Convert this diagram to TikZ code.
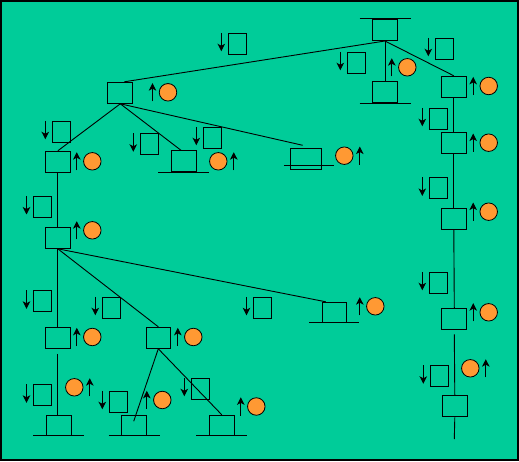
\documentclass[tikz,border=0pt]{standalone}
\usetikzlibrary{arrows.meta}
\definecolor{sea}{HTML}{00CC99}
\definecolor{coin}{HTML}{FF9933}
\tikzset{
  tbox/.style={
    draw=black, line width=1pt, inner sep=0pt,
    minimum width=25pt, minimum height=21pt
  },
  tagbox/.style={
    draw=black, line width=1pt, inner sep=0pt,
    minimum width=18pt, minimum height=21pt
  },
  ball/.style={
    circle, draw=black, fill=coin, line width=0.8pt,
    inner sep=0pt, minimum size=17.5pt
  },
  pointer/.style={-{Stealth[length=7.5pt,width=7.5pt,inset=2pt]}, line width=1pt},
  branch/.style={line width=0.9pt},
  ground/.style={line width=1pt}
}

\begin{document}
\begin{tikzpicture}[x=1pt,y=-1pt]
  \useasboundingbox (0,0) rectangle (519,462);
  \draw[fill=sea, line width=2pt] (1,1) rectangle (517.5,459.5);

  % tree positions
  \node[tbox] (root) at (385,30) {};
  \node[tbox] (mid) at (385,92.3) {};
  \node[tbox] (r1) at (453.8,86.8) {};
  \node[tbox] (r2) at (453.8,142.8) {};
  \node[tbox] (r3) at (453.8,218.8) {};
  \node[tbox] (r4) at (454.3,319.3) {};
  \node[tbox] (r5) at (454.8,406.3) {};
  \node[tbox] (l1) at (120.3,92.8) {};
  \node[tbox] (la) at (57.8,161.8) {};
  \node[tbox] (lb) at (183.5,161.3) {};
  \node[tbox, minimum width=31pt] (lc) at (305.8,159.3) {};
  \node[tbox] (ld) at (57.8,237.8) {};
  \node[tbox] (le) at (57.8,337.8) {};
  \node[tbox, minimum width=24pt] (lf) at (158.3,337.8) {};
  \node[tbox, minimum width=24pt, minimum height=20pt] (lg) at (334.3,312.3) {};
  \node[tbox, minimum height=20pt] (lh) at (58.8,425.3) {};
  \node[tbox, minimum height=20pt] (li) at (134,425.3) {};
  \node[tbox, minimum height=20pt] (lj) at (221.8,425.3) {};
  \coordinate (lcend) at (302.7,145.3);
  \coordinate (liend) at (133.7,421.3);
  \coordinate (rend) at (454.3,439);

  % branches
  \draw[branch] (root.south) -- ([xshift=4pt]l1.north);
  \draw[branch] (root.south) -- (mid.north);
  \draw[branch] (root.south) -- (r1.north);
  \draw[branch] (r1.south) -- (r2.north);
  \draw[branch] (r2.south) -- (r3.north);
  \draw[branch] (r3.south) -- (r4.north);
  \draw[branch] ([yshift=-4pt]r4.south) -- (r5.north);
  \draw[branch] (r5.south) -- (rend);
  \draw[branch] (l1.south) -- (la.north);
  \draw[branch] (l1.south) -- ([xshift=-2.5pt]lb.north);
  \draw[branch] (l1.south) -- (lcend);
  \draw[branch] (la.south) -- (ld.north);
  \draw[branch] (ld.south) -- (le.north);
  \draw[branch] (ld.south) -- (lf.north);
  \draw[branch] (ld.south) -- ([xshift=4pt]lg.north west);
  \draw[branch] ([yshift=-5pt]le.south) -- (le.south |- lh.north);
  \draw[branch] (lf.south) -- (liend);
  \draw[branch] (lf.south) -- (lj.north);

  % ground bars
  \draw[ground] ([xshift=-12.5pt]root.north west) -- ([xshift=12.5pt]root.north east);
  \draw[ground] ([xshift=-12.5pt]mid.south west) -- ([xshift=12.5pt]mid.south east);
  \draw[ground] ([xshift=-12.5pt]lb.south west) -- ([xshift=12.5pt]lb.south east);
  \draw[ground] ([xshift=-6pt,yshift=5pt]lc.south west) -- ([xshift=12.5pt,yshift=5pt]lc.south east);
  \draw[ground] ([xshift=-12.5pt]lg.south west) -- ([xshift=12.5pt]lg.south east);
  \draw[ground] ([xshift=-12.5pt]lh.south west) -- ([xshift=12.5pt]lh.south east);
  \draw[ground] ([xshift=-12.5pt]li.south west) -- ([xshift=12.5pt]li.south east);
  \draw[ground] ([xshift=-12.5pt]lj.south west) -- ([xshift=12.5pt]lj.south east);

  % tags with down arrows
  \node[tagbox] (t1) at (237.3,43.8) {};
  \node[tagbox] (t2) at (356.3,62.8) {};
  \node[tagbox] (t3) at (444.3,48.8) {};
  \node[tagbox] (t4) at (438.3,118.8) {};
  \node[tagbox] (t5) at (438.3,188.5) {};
  \node[tagbox] (t6) at (438.3,282.8) {};
  \node[tagbox] (t7) at (439.3,376.3) {};
  \node[tagbox] (t8) at (61.3,131.8) {};
  \node[tagbox] (t9) at (149.3,144.3) {};
  \node[tagbox] (t10) at (212.3,137.8) {};
  \node[tagbox] (t11) at (42.5,207) {};
  \node[tagbox] (t12) at (42.5,301.3) {};
  \node[tagbox] (t13) at (111.3,307.8) {};
  \node[tagbox] (t14) at (262.5,307.8) {};
  \node[tagbox] (t15) at (42.5,395.3) {};
  \node[tagbox] (t16) at (118.3,401.8) {};
  \node[tagbox] (t17) at (200.3,388.8) {};
  \draw[pointer] ([xshift=-6.5pt]t1.north west) -- ([xshift=-6.5pt,yshift=-7.5pt]t1.west);
  \draw[pointer] ([xshift=-6.5pt]t2.north west) -- ([xshift=-6.5pt,yshift=-7.5pt]t2.west);
  \draw[pointer] ([xshift=-6.5pt]t3.north west) -- ([xshift=-6.5pt,yshift=-7.5pt]t3.west);
  \draw[pointer] ([xshift=-6.5pt]t4.north west) -- ([xshift=-6.5pt,yshift=-7.5pt]t4.west);
  \draw[pointer] ([xshift=-6.5pt]t5.north west) -- ([xshift=-6.5pt,yshift=-7.5pt]t5.west);
  \draw[pointer] ([xshift=-6.5pt]t6.north west) -- ([xshift=-6.5pt,yshift=-7.5pt]t6.west);
  \draw[pointer] ([xshift=-6.5pt]t7.north west) -- ([xshift=-6.5pt,yshift=-7.5pt]t7.west);
  \draw[pointer] ([xshift=-6.5pt]t8.north west) -- ([xshift=-6.5pt,yshift=-7.5pt]t8.west);
  \draw[pointer] ([xshift=-6.5pt]t9.north west) -- ([xshift=-6.5pt,yshift=-7.5pt]t9.west);
  \draw[pointer] ([xshift=-6.5pt]t10.north west) -- ([xshift=-6.5pt,yshift=-7.5pt]t10.west);
  \draw[pointer] ([xshift=-6.5pt]t11.north west) -- ([xshift=-6.5pt,yshift=-7.5pt]t11.west);
  \draw[pointer] ([xshift=-6.5pt]t12.north west) -- ([xshift=-6.5pt,yshift=-7.5pt]t12.west);
  \draw[pointer] ([xshift=-6.5pt]t13.north west) -- ([xshift=-6.5pt,yshift=-7.5pt]t13.west);
  \draw[pointer] ([xshift=-6.5pt]t14.north west) -- ([xshift=-6.5pt,yshift=-7.5pt]t14.west);
  \draw[pointer] ([xshift=-6.5pt]t15.north west) -- ([xshift=-6.5pt,yshift=-7.5pt]t15.west);
  \draw[pointer] ([xshift=-6.5pt]t16.north west) -- ([xshift=-6.5pt,yshift=-7.5pt]t16.west);
  \draw[pointer] ([xshift=-6.5pt]t17.north west) -- ([xshift=-6.5pt,yshift=-7.5pt]t17.west);

  % balls with up arrows
  \node[ball] (c1) at (407.3,67.3) {};
  \node[ball] (c2) at (488.7,86) {};
  \node[ball] (c3) at (488.7,142.7) {};
  \node[ball] (c4) at (488.7,211.7) {};
  \node[ball] (c5) at (488.7,312.3) {};
  \node[ball] (c6) at (470.3,368.3) {};
  \node[ball] (c7) at (168,92.3) {};
  \node[ball] (c8) at (92.3,161.3) {};
  \node[ball] (c9) at (218.3,161.3) {};
  \node[ball] (c10) at (344.3,155.7) {};
  \node[ball] (c11) at (92.3,230.3) {};
  \node[ball] (c12) at (92.3,337) {};
  \node[ball] (c13) at (193.3,337) {};
  \node[ball] (c14) at (375.3,306.3) {};
  \node[ball] (c15) at (74.3,387.3) {};
  \node[ball] (c16) at (162.3,400) {};
  \node[ball] (c17) at (256.3,406.5) {};
  \draw[pointer] ([xshift=-15.5pt]c1.south) -- ([xshift=-15.5pt]c1.north);
  \draw[pointer] ([xshift=-15.5pt]c2.south) -- ([xshift=-15.5pt]c2.north);
  \draw[pointer] ([xshift=-15.5pt]c3.south) -- ([xshift=-15.5pt]c3.north);
  \draw[pointer] ([xshift=-15.5pt]c4.south) -- ([xshift=-15.5pt]c4.north);
  \draw[pointer] ([xshift=-15.5pt]c5.south) -- ([xshift=-15.5pt]c5.north);
  \draw[pointer] ([xshift=15.5pt]c6.south) -- ([xshift=15.5pt]c6.north);
  \draw[pointer] ([xshift=-15.5pt]c7.south) -- ([xshift=-15.5pt]c7.north);
  \draw[pointer] ([xshift=-15.5pt]c8.south) -- ([xshift=-15.5pt]c8.north);
  \draw[pointer] ([xshift=15.5pt]c9.south) -- ([xshift=15.5pt]c9.north);
  \draw[pointer] ([xshift=15.5pt]c10.south) -- ([xshift=15.5pt]c10.north);
  \draw[pointer] ([xshift=-15.5pt]c11.south) -- ([xshift=-15.5pt]c11.north);
  \draw[pointer] ([xshift=-15.5pt]c12.south) -- ([xshift=-15.5pt]c12.north);
  \draw[pointer] ([xshift=-15.5pt]c13.south) -- ([xshift=-15.5pt]c13.north);
  \draw[pointer] ([xshift=-15.5pt]c14.south) -- ([xshift=-15.5pt]c14.north);
  \draw[pointer] ([xshift=15.5pt]c15.south) -- ([xshift=15.5pt]c15.north);
  \draw[pointer] ([xshift=-15.5pt]c16.south) -- ([xshift=-15.5pt]c16.north);
  \draw[pointer] ([xshift=-15.5pt]c17.south) -- ([xshift=-15.5pt]c17.north);
\end{tikzpicture}
\end{document}
